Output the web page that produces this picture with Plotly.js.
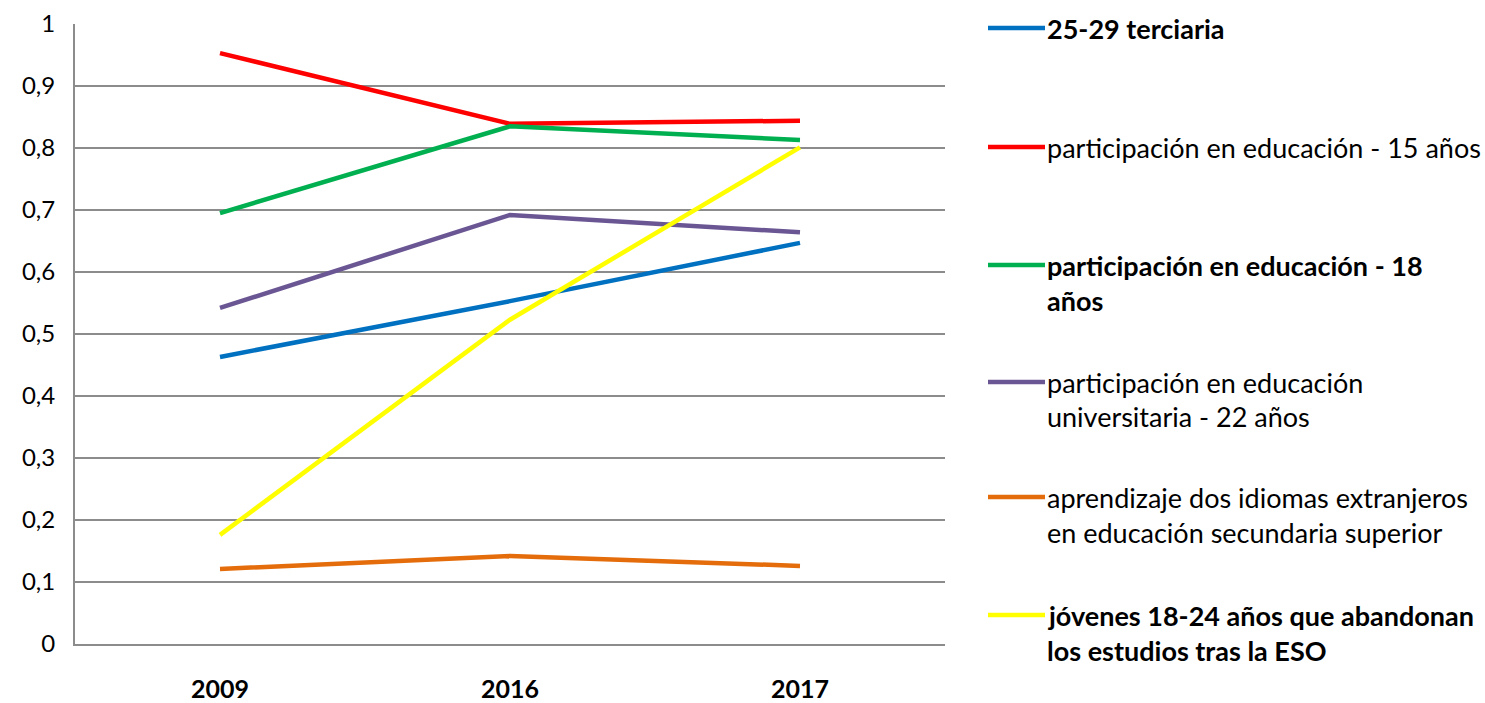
<!DOCTYPE html>
<html>
<head>
<meta charset="utf-8">
<script src="https://cdn.plot.ly/plotly-3.0.1.min.js"></script>
<style>html,body{margin:0;padding:0;background:#fff;}#chart{width:1485px;height:703px;}</style>
</head>
<body>
<div id="chart"></div>
<script>
var years = ["2009", "2016", "2017"];
var seriesNames = [
  "25-29 terciaria",
  "participación en educación - 15 años",
  "participación en educación - 18<br>años",
  "participación en educación<br>universitaria - 22 años",
  "aprendizaje dos idiomas extranjeros<br>en educación secundaria superior",
  "jóvenes 18-24 años que abandonan<br>los estudios tras la ESO"
];
var terciaria = [0.463, 0.553, 0.647];
var edu15 = [0.953, 0.839, 0.844];
var edu18 = [0.695, 0.835, 0.813];
var univ22 = [0.542, 0.692, 0.664];
var idiomas = [0.121, 0.142, 0.126];
var abandono = [0.176, 0.523, 0.801];
var yTicks = [0, 0.1, 0.2, 0.3, 0.4, 0.5, 0.6, 0.7, 0.8, 0.9, 1];

var values = [terciaria, edu15, edu18, univ22, idiomas, abandono];
var colors = ["#0070C0", "#FF0000", "#00B050", "#6B5694", "#E46C0A", "#FFFF00"];
var boldFlags = [true, false, true, false, false, true];

var FONT = "Lato, Open Sans, sans-serif";

var traces = values.map(function (v, i) {
  return {
    x: years, y: v, type: "scatter", mode: "lines",
    name: seriesNames[i],
    line: {color: colors[i], width: 4.5},
    showlegend: false, hoverinfo: "x+y"
  };
});

// legend drawn in paper coordinates
var plotL = 75, plotR = 945, plotT = 24, plotB = 644;
function px2x(p) { return (p - plotL) / (plotR - plotL); }
function px2y(p) { return (plotB - p) / (plotB - plotT); }
var entryY = [28, 147, 265, 382, 497, 615];
var lineGap = 35;

var shapes = [];
var annotations = [];
seriesNames.forEach(function (nm, i) {
  shapes.push({
    type: "line", xref: "paper", yref: "paper",
    x0: px2x(988), x1: px2x(1045), y0: px2y(entryY[i]), y1: px2y(entryY[i]),
    line: {color: colors[i], width: 4.5}
  });
  nm.split("<br>").forEach(function (ln, j) {
    annotations.push({
      xref: "paper", yref: "paper", x: px2x(1045), y: px2y(entryY[i] + j * lineGap),
      xanchor: "left", yanchor: "middle", showarrow: false,
      text: boldFlags[i] ? "<b>" + ln + "</b>" : ln,
      font: {family: FONT, size: 27, color: "#000"}
    });
  });
});

var layout = {
  width: 1485, height: 703,
  margin: {l: plotL, r: 1485 - plotR, t: plotT, b: 703 - plotB, pad: 0},
  paper_bgcolor: "#fff", plot_bgcolor: "#fff",
  separators: ",.",
  showlegend: false,
  font: {family: FONT, size: 20, color: "#000"},
  xaxis: {
    type: "category", range: [-0.5, 2.5],
    showgrid: false, zeroline: false,
    showline: true, linecolor: "#8C8C8C", linewidth: 2,
    ticks: "", tickfont: {family: FONT, size: 25, color: "#000", weight: "bold"},
    ticklabelstandoff: 22
  },
  yaxis: {
    range: [0, 1], tickvals: yTicks, tickformat: "",
    showgrid: true, gridcolor: "#8C8C8C", gridwidth: 1.5,
    zeroline: false, showline: true, linecolor: "#8C8C8C", linewidth: 2,
    ticks: "", tickfont: {family: FONT, size: 24, color: "#000"},
    ticklabelstandoff: 13
  },
  shapes: shapes,
  annotations: annotations
};

Plotly.newPlot("chart", traces, layout, {displayModeBar: false, staticPlot: true});
</script>
</body>
</html>
